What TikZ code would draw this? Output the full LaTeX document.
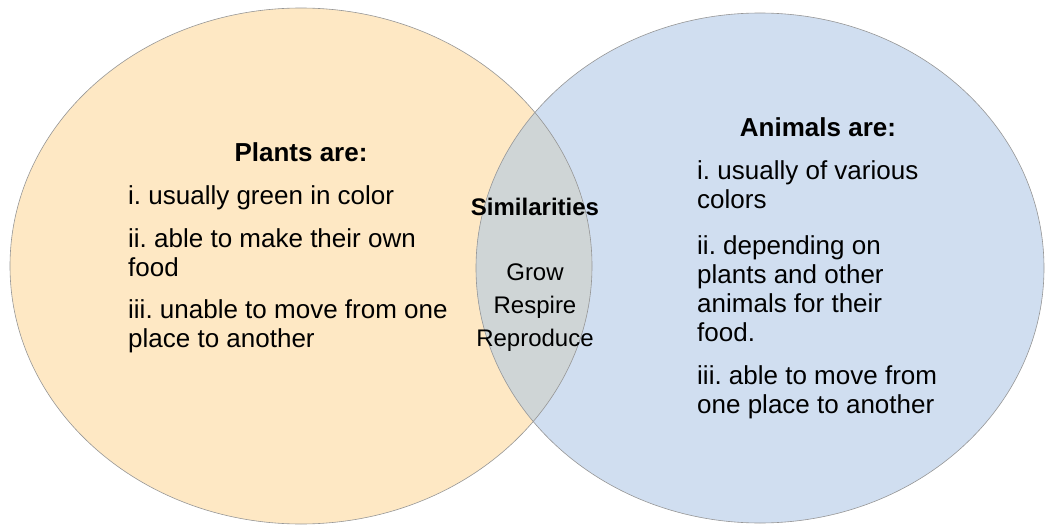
\documentclass[tikz,border=0pt]{standalone}
\usepackage{fontspec}
\setmainfont{Liberation Sans}
\frenchspacing
\definecolor{plantfill}{RGB}{254,232,196}
\definecolor{animalfill}{RGB}{208,222,240}
\definecolor{bothfill}{RGB}{207,213,214}
\definecolor{rimgray}{RGB}{150,150,150}

\begin{document}
\begin{tikzpicture}[x=1pt,y=-1pt,
  rim/.style={draw=rimgray, line width=0.6pt},
  head/.style={anchor=base, inner sep=0pt, font=\fontsize{26}{29}\selectfont\bfseries},
  txt/.style={anchor=base west, align=left, inner sep=0pt, font=\fontsize{26}{29}\selectfont},
  simhead/.style={anchor=base, inner sep=0pt, font=\fontsize{24}{33}\selectfont\bfseries},
  simtxt/.style={anchor=base, align=center, inner sep=0pt, font=\fontsize{24}{33}\selectfont}]
%\draw [help lines] grid (1047,527);
\useasboundingbox (0,0) rectangle (1047,527);
\fill[plantfill] (301,266) ellipse [x radius=291, y radius=258];
\fill[animalfill] (760,268) ellipse [x radius=284, y radius=255];
\begin{scope}
\clip (301,266) ellipse [x radius=291, y radius=258];
\fill[bothfill] (760,268) ellipse [x radius=284, y radius=255];
\end{scope}
\draw[rim] (301,266) ellipse [x radius=291, y radius=258];
\draw[rim] (760,268) ellipse [x radius=284, y radius=255];

% text nodes sit on the baseline of their last line
\node[head] (plants) at (301,161) {Plants are:};
\node[txt] (p1) at (128,204) {i. usually green in color};
\node[txt] (p2) at (128,276) {ii. able to make their own\\food};
\node[txt] (p3) at (128,347) {iii. unable to move from one\\place to another};

\node[head] (animals) at (818,136) {Animals are:};
\node[txt] (a1) at (697,208) {i. usually of various\\colors};
\node[txt] (a2) at (697,341) {ii. depending on\\plants and other\\animals for their\\food.};
\node[txt] (a3) at (697,413) {iii. able to move from\\one place to another};

\node[simhead] (sim) at (535,215) {Similarities};
\node[simtxt] (same) at (535,346) {Grow\\Respire\\Reproduce};

\end{tikzpicture}
\end{document}
